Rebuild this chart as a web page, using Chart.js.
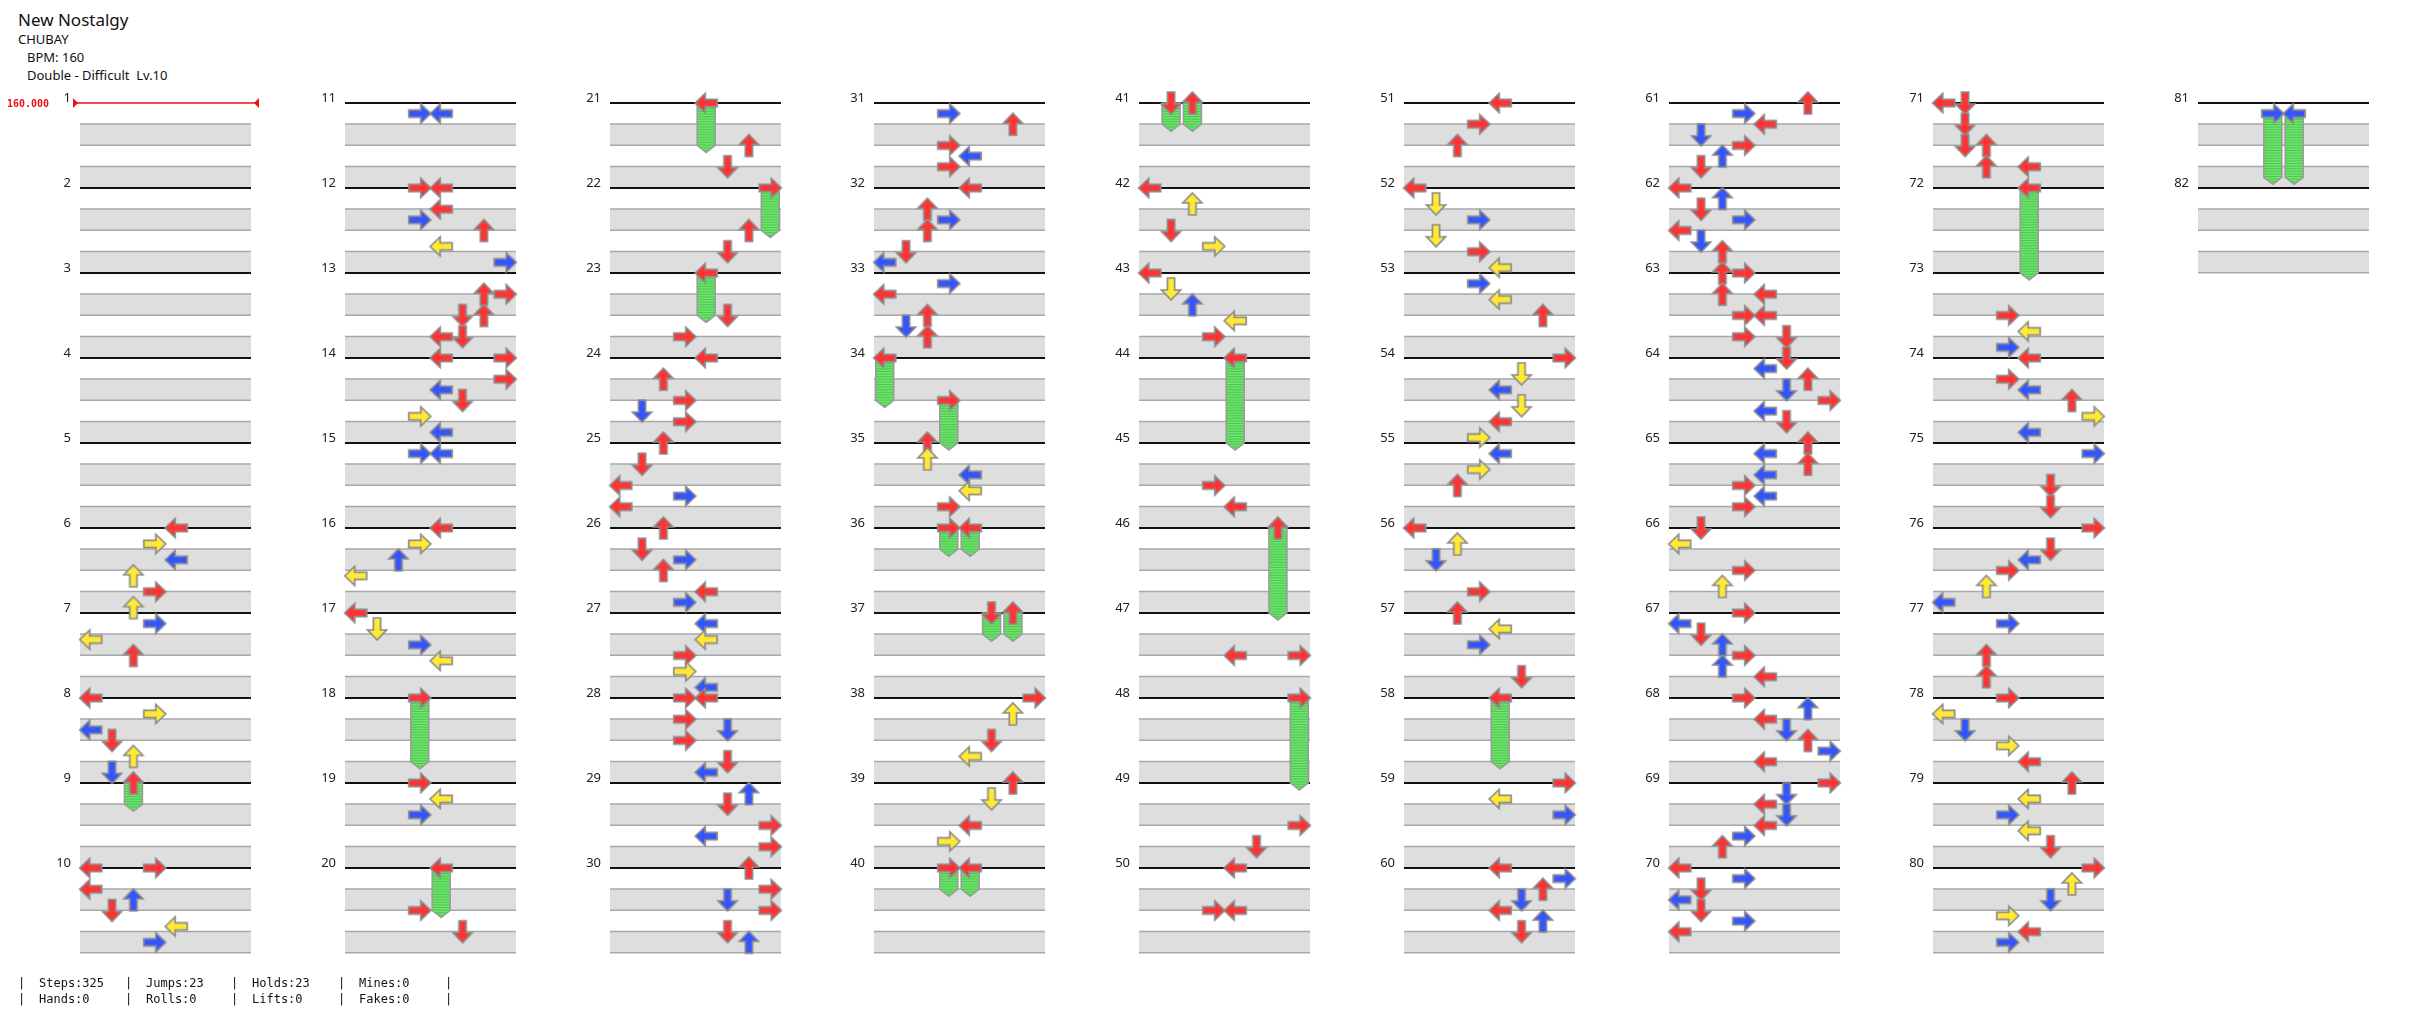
<!DOCTYPE html>
<html>
<head>
<meta charset="utf-8">
<script src="https://cdn.jsdelivr.net/npm/chart.js@4/dist/chart.umd.min.js"></script>
<style>
  body{ margin:0; width:2436px; height:1024px; background:#fff; position:relative; overflow:hidden; font-family:"Noto Sans", sans-serif; color:#111; }
  .t{ position:absolute; white-space:nowrap; }
  canvas.col{ position:absolute; }
  .ft{ position:absolute; font-family:"DejaVu Sans Mono", monospace; font-size:12px; line-height:16px; white-space:pre; }
</style>
</head>
<body>
<div class="t" style="left:18px;top:8px;font-size:17px;">New Nostalgy</div>
<div class="t" style="left:18px;top:30px;font-size:13px;">CHUBAY</div>
<div class="t" style="left:27px;top:48px;font-size:13px;">BPM: 160</div>
<div class="t" style="left:27px;top:66px;font-size:13px;">Double - Difficult&nbsp; Lv.10</div>
<div id="wrap"></div>
<div id="foot"></div>
<script>
// notes: [measure, row (16ths), lane]  lanes: 0-3 = P1 L D U R, 4-7 = P2 L D U R
const NOTES_01_10 = [
  [6,0,4],[6,3,3],[6,6,4],[6,9,2],[6,12,3],[6,15,2],
  [7,2,3],[7,5,0],[7,8,2],
  [8,0,0],[8,3,3],[8,6,0],[8,8,1],[8,11,2],[8,14,1],
  [10,0,0],[10,0,3],[10,4,0],[10,6,2],[10,8,1],[10,11,4],[10,14,3]
];
const NOTES_11_20 = [
  [11,2,3],[11,2,4],
  [12,0,3],[12,0,4],[12,4,4],[12,6,3],[12,8,6],[12,11,4],[12,14,7],
  [13,4,6],[13,4,7],[13,8,5],[13,8,6],[13,12,4],[13,12,5],
  [14,0,4],[14,0,7],[14,4,7],[14,6,4],[14,8,5],[14,11,3],[14,14,4],
  [15,2,3],[15,2,4],
  [16,0,4],[16,3,3],[16,6,2],[16,9,0],
  [17,0,0],[17,3,1],[17,6,3],[17,9,4],
  [19,0,3],[19,3,4],[19,6,3],
  [20,8,3],[20,12,5]
];
const NOTES_21_30 = [
  [21,8,6],[21,12,5],
  [22,8,6],[22,12,5],
  [23,8,5],[23,12,3],
  [24,0,4],[24,4,2],[24,8,3],[24,10,1],[24,12,3],
  [25,0,2],[25,4,1],[25,8,0],[25,10,3],[25,12,0],
  [26,0,2],[26,4,1],[26,6,3],[26,8,2],[26,12,4],[26,14,3],
  [27,2,4],[27,5,4],[27,8,3],[27,11,3],[27,14,4],
  [28,0,3],[28,0,4],[28,4,3],[28,6,5],[28,8,3],[28,12,5],[28,14,4],
  [29,2,6],[29,4,5],[29,8,7],[29,10,4],[29,12,7],
  [30,0,6],[30,4,7],[30,6,5],[30,8,7],[30,12,5],[30,14,6]
];
const NOTES_31_40 = [
  [31,2,3],[31,4,6],[31,8,3],[31,10,4],[31,12,3],
  [32,0,4],[32,4,2],[32,6,3],[32,8,2],[32,12,1],[32,14,0],
  [33,2,3],[33,4,0],[33,8,2],[33,10,1],[33,12,2],
  [35,0,2],[35,3,2],[35,6,4],[35,9,4],[35,12,3],
  [38,0,7],[38,3,6],[38,8,5],[38,11,4],
  [39,0,6],[39,3,5],[39,8,4],[39,11,3]
];
const NOTES_41_50 = [
  [42,0,0],[42,3,2],[42,8,1],[42,11,3],
  [43,0,0],[43,3,1],[43,6,2],[43,9,4],[43,12,3],
  [45,8,3],[45,12,4],
  [47,8,4],[47,8,7],
  [49,8,7],[49,12,5],
  [50,0,4],[50,8,3],[50,8,4]
];
const NOTES_51_60 = [
  [51,0,4],[51,4,3],[51,8,2],
  [52,0,0],[52,3,1],[52,6,3],[52,9,1],[52,12,3],[52,15,4],
  [53,2,3],[53,5,4],[53,8,6],
  [54,0,7],[54,3,5],[54,6,4],[54,9,5],[54,12,4],[54,15,3],
  [55,2,4],[55,5,3],[55,8,2],
  [56,0,0],[56,3,2],[56,6,1],[56,12,3],
  [57,0,2],[57,3,4],[57,6,3],[57,12,5],
  [59,0,7],[59,3,4],[59,6,7],
  [60,0,4],[60,2,7],[60,4,6],[60,6,5],[60,8,4],[60,10,6],[60,12,5]
];
const NOTES_61_70 = [
  [61,0,6],[61,2,3],[61,4,4],[61,6,1],[61,8,3],[61,10,2],[61,12,1],
  [62,0,0],[62,2,2],[62,4,1],[62,6,3],[62,8,0],[62,10,1],[62,12,2],
  [63,0,2],[63,0,3],[63,4,2],[63,4,4],[63,8,3],[63,8,4],[63,12,3],[63,12,5],
  [64,0,5],[64,2,4],[64,4,6],[64,6,5],[64,8,7],[64,10,4],[64,12,5],
  [65,0,6],[65,2,4],[65,4,6],[65,6,4],[65,8,3],[65,10,4],[65,12,3],
  [66,0,1],[66,3,0],[66,8,3],[66,11,2],
  [67,0,3],[67,2,0],[67,4,1],[67,6,2],[67,8,3],[67,10,2],[67,12,4],
  [68,0,3],[68,2,6],[68,4,4],[68,6,5],[68,8,6],[68,10,7],[68,12,4],
  [69,0,7],[69,2,5],[69,4,4],[69,6,5],[69,8,4],[69,10,3],[69,12,2],
  [70,0,0],[70,2,3],[70,4,1],[70,6,0],[70,8,1],[70,10,3],[70,12,0]
];
const NOTES_71_80 = [
  [71,0,0],[71,0,1],[71,4,1],[71,8,1],[71,8,2],[71,12,2],[71,12,4],
  [73,8,3],[73,11,4],[73,14,3],
  [74,0,4],[74,4,3],[74,6,4],[74,8,6],[74,11,7],[74,14,4],
  [75,2,7],[75,8,5],[75,12,5],
  [76,0,7],[76,4,5],[76,6,4],[76,8,3],[76,11,2],[76,14,0],
  [77,2,3],[77,8,2],[77,12,2],
  [78,0,3],[78,3,0],[78,6,1],[78,9,3],[78,12,4],
  [79,0,6],[79,3,4],[79,6,3],[79,9,4],[79,12,5],
  [80,0,7],[80,3,6],[80,6,5],[80,9,3],[80,12,4],[80,14,3]
];
const NOTES_81_82 = [];
// holds: [measure, row, endMeasure, endRow, lane]
const HOLDS = [
  [9,0,9,4,2],
  [18,0,18,12,3],[20,0,20,8,4],
  [21,0,21,8,4],[22,0,22,8,7],[23,0,23,8,4],
  [34,0,34,8,0],[34,8,35,0,3],[36,0,36,4,3],[36,0,36,4,4],[37,0,37,4,5],[37,0,37,4,6],[40,0,40,4,3],[40,0,40,4,4],
  [41,0,41,4,1],[41,0,41,4,2],[44,0,45,0,4],[46,0,47,0,6],[48,0,49,0,7],
  [58,0,58,12,4],
  [72,0,73,0,4],
  [81,2,81,14,3],[81,2,81,14,4]
];
const BLOCK_STARTS = [1,11,21,31,41,51,61,71,81];
const BLOCK_NOTES = [NOTES_01_10,NOTES_11_20,NOTES_21_30,NOTES_31_40,NOTES_41_50,NOTES_51_60,NOTES_61_70,NOTES_71_80,NOTES_81_82];
const LAST_MEASURE = 82;
const BPM_CHANGES = [[1,"160.000"]];
const FOOT_COLS = [["Steps:325","Hands:0"],["Jumps:23","Rolls:0"],["Holds:23","Lifts:0"],["Mines:0","Fakes:0"]];

const COL = { red:"#ff3333", blue:"#3355ff", yellow:"#ffe933", gray:"#dedede", edge:"#a8a8a8", green:"#74e074" };
const DIRS = ["left","down","up","right"];
const ROT = { left:0, down:-Math.PI/2, up:Math.PI/2, right:Math.PI };

function quantColor(row){
  if(row%4===0) return COL.red;
  if(row%2===0) return COL.blue;
  return COL.yellow;
}

const imgCache = {};
function arrowImg(dir, color){
  const key = dir+color;
  if(imgCache[key]) return imgCache[key];
  const c = document.createElement("canvas");
  c.width = 26; c.height = 26;
  const g = c.getContext("2d");
  g.translate(13,13); g.rotate(ROT[dir]);
  g.beginPath();
  g.moveTo(-11,0); g.lineTo(-1,-9.5); g.lineTo(-1,-3.6); g.lineTo(11,-3.6);
  g.lineTo(11,3.6); g.lineTo(-1,3.6); g.lineTo(-1,9.5); g.closePath();
  g.fillStyle = color; g.fill();
  g.lineWidth = 1.7; g.strokeStyle = "#8c8c8c"; g.stroke();
  imgCache[key] = c;
  return c;
}

const gridPlugin = {
  id:"grid",
  beforeDatasetsDraw(chart, args, opts){
    const {ctx, scales:{x,y}} = chart;
    const start = opts.start, end = Math.min(start+9, LAST_MEASURE);
    const x0 = x.getPixelForValue(0), x1 = x.getPixelForValue(8);
    ctx.save();
    for(let m=start; m<=end; m++){
      for(let b=1; b<4; b+=2){
        const ya = y.getPixelForValue(m+b/4), yb = y.getPixelForValue(m+(b+1)/4);
        ctx.fillStyle = COL.gray; ctx.fillRect(x0, ya, x1-x0, yb-ya);
        ctx.fillStyle = COL.edge;
        ctx.fillRect(x0, ya-1, x1-x0, 1.5); ctx.fillRect(x0, yb-1, x1-x0, 1.5);
      }
    }
    for(let m=start; m<=end; m++){
      const ym = y.getPixelForValue(m);
      const bpm = BPM_CHANGES.find(b=>b[0]===m);
      if(bpm){
        ctx.strokeStyle = "#ee1111"; ctx.lineWidth = 1.5;
        ctx.beginPath(); ctx.moveTo(x0-7, ym); ctx.lineTo(x1+8, ym); ctx.stroke();
        ctx.fillStyle = "#ee1111";
        ctx.beginPath(); ctx.moveTo(x0-7, ym-5); ctx.lineTo(x0-2, ym); ctx.lineTo(x0-7, ym+5); ctx.fill();
        ctx.beginPath(); ctx.moveTo(x1+8, ym-5); ctx.lineTo(x1+3, ym); ctx.lineTo(x1+8, ym+5); ctx.fill();
        ctx.font = "bold 10px 'DejaVu Sans Mono', monospace"; ctx.textAlign = "left"; ctx.textBaseline = "middle";
        ctx.fillText(bpm[1], x0-73, ym+1);
      }else{
        ctx.fillStyle = "#111"; ctx.fillRect(x0, ym-1, x1-x0, 2);
      }
      ctx.fillStyle = "#222"; ctx.font = "13px 'Noto Sans', sans-serif";
      ctx.textAlign = "right"; ctx.textBaseline = "alphabetic";
      ctx.fillText(String(m), x0-9, ym-1);
    }
    // hold bodies
    HOLDS.filter(h=>h[0]>=start && h[0]<start+10).forEach(h=>{
      const cx = x.getPixelForValue(h[4]+0.5);
      const ya = y.getPixelForValue(h[0]+h[1]/16), yb = y.getPixelForValue(h[2]+h[3]/16);
      const w = 9;
      ctx.beginPath();
      ctx.moveTo(cx-w, ya); ctx.lineTo(cx+w, ya); ctx.lineTo(cx+w, yb); ctx.lineTo(cx, yb+7); ctx.lineTo(cx-w, yb); ctx.closePath();
      ctx.fillStyle = COL.green; ctx.fill();
      ctx.save(); ctx.clip();
      ctx.fillStyle = "rgba(40,190,40,0.6)";
      for(let yy=ya; yy<yb+8; yy+=2.6) ctx.fillRect(cx-w, yy, 2*w, 1);
      ctx.restore();
      ctx.lineWidth = 1.5; ctx.strokeStyle = "#9a9a9a"; ctx.stroke();
    });
    ctx.restore();
  }
};

const COL_X = [80,345,609.5,874,1139,1404,1668.5,1933,2198];
const TOP = 103, MEAS_H = 85, LANES_W = 171, PAD_L = 80, PAD_T = 20;
const wrap = document.getElementById("wrap");

BLOCK_STARTS.forEach((start, i)=>{
  const cv = document.createElement("canvas");
  cv.className = "col";
  const w = PAD_L + LANES_W + 14, h = PAD_T + MEAS_H*10 + 24;
  cv.width = w; cv.height = h;
  cv.style.left = (COL_X[i]-PAD_L)+"px"; cv.style.top = (TOP-PAD_T)+"px";
  cv.style.width = w+"px"; cv.style.height = h+"px";
  wrap.appendChild(cv);
  const notes = BLOCK_NOTES[i].map(n=>({x:n[2]+0.5, y:n[0]+n[1]/16, dir:DIRS[n[2]%4], color:quantColor(n[1])}));
  const heads = HOLDS.filter(hd=>hd[0]>=start && hd[0]<start+10)
    .map(hd=>({x:hd[4]+0.5, y:hd[0]+hd[1]/16, dir:DIRS[hd[4]%4], color:quantColor(hd[1])}));
  const style = c => { const p = c.raw; return p ? arrowImg(p.dir, p.color) : "circle"; };
  new Chart(cv, {
    type:"scatter",
    data:{ datasets:[
      { data:notes, pointStyle:style, pointRadius:12, clip:false },
      { data:heads, pointStyle:style, pointRadius:12, clip:false }
    ]},
    options:{
      responsive:false, animation:false, devicePixelRatio:1, events:[],
      layout:{ padding:{ left:PAD_L, right:14, top:PAD_T, bottom:24 } },
      scales:{
        x:{ type:"linear", min:0, max:8, display:false },
        y:{ type:"linear", min:start, max:start+10, reverse:true, display:false }
      },
      plugins:{ legend:{display:false}, tooltip:{enabled:false}, grid:{ start } }
    },
    plugins:[gridPlugin]
  });
});

const foot = document.getElementById("foot");
const SEP_X = [21,128,234,341,448];
SEP_X.forEach(sx=>{
  const d = document.createElement("div");
  d.className = "ft"; d.style.left = (sx-3)+"px"; d.style.top = "975px";
  d.textContent = "|\n|"; foot.appendChild(d);
});
FOOT_COLS.forEach((pair, i)=>{
  const d = document.createElement("div");
  d.className = "ft"; d.style.left = (SEP_X[i]+18)+"px"; d.style.top = "975px";
  d.textContent = pair.join("\n"); foot.appendChild(d);
});
</script>
</body>
</html>
